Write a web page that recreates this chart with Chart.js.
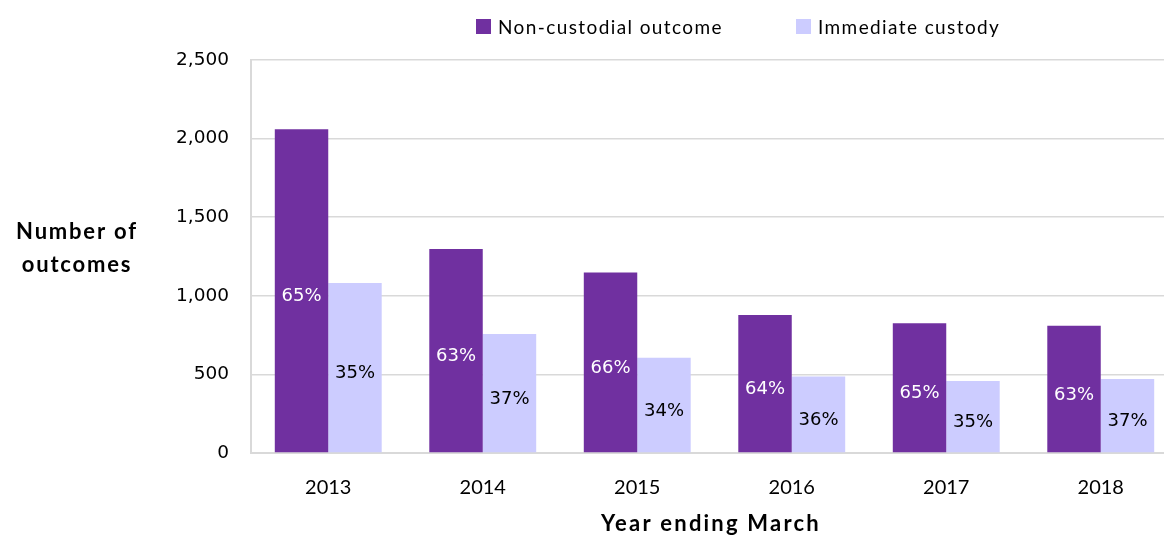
<!DOCTYPE html>
<html>
<head>
<meta charset="utf-8">
<script src="https://cdn.jsdelivr.net/npm/chart.js@4"></script>
<style>
  html, body { margin: 0; padding: 0; overflow: hidden; background: #fff; }
  #wrap { position: relative; width: 1178px; height: 536px; }
</style>
</head>
<body>
<div id="wrap"><canvas id="chart"></canvas></div>
<script>
const years = ["2013", "2014", "2015", "2016", "2017", "2018"];
const nonCustodial = [2060, 1298, 1149, 878, 825, 810];
const immediateCustody = [1081, 757, 606, 486, 458, 471];
const nonCustodialPct = ["65%", "63%", "66%", "64%", "65%", "63%"];
const immediateCustodyPct = ["35%", "37%", "34%", "36%", "35%", "37%"];
const yTicks = [0, 500, 1000, 1500, 2000, 2500];

const purple = "#7030A0";
const lavender = "#CCCCFF";

// percentage labels in the middle of each bar
const barLabels = {
  id: "barLabels",
  afterDatasetsDraw(chart) {
    const ctx = chart.ctx;
    ctx.save();
    ctx.font = "18px 'DejaVu Sans'";
    ctx.textAlign = "center";
    ctx.textBaseline = "middle";
    chart.data.datasets.forEach((ds, i) => {
      chart.getDatasetMeta(i).data.forEach((bar, j) => {
        ctx.fillStyle = i === 0 ? "#ffffff" : "#000000";
        ctx.fillText(ds.pctLabels[j], bar.x, (bar.y + bar.base) / 2 + 6);
      });
    });
    ctx.restore();
  }
};

// legend, horizontal y title and x title
const extras = {
  id: "extras",
  afterDraw(chart) {
    const ctx = chart.ctx;
    ctx.save();
    ctx.font = "19px Lato";
    ctx.letterSpacing = "1.4px";
    ctx.textBaseline = "alphabetic";
    ctx.textAlign = "left";
    const starts = [476, 796];
    chart.data.datasets.forEach((ds, i) => {
      const x = starts[i];
      ctx.fillStyle = ds.backgroundColor;
      ctx.fillRect(x, 19, 15, 15);
      ctx.fillStyle = "#000";
      ctx.fillText(ds.label, x + 22, 34);
    });

    ctx.font = "bold 22px Lato";
    ctx.letterSpacing = "1.8px";
    ctx.textAlign = "center";
    ctx.fillText("Number of", 77, 239);
    ctx.fillText("outcomes", 77, 272);

    ctx.letterSpacing = "2.2px";
    ctx.fillText("Year ending March", 711, 531);
    ctx.letterSpacing = "0px";
    ctx.restore();
  }
};

new Chart(document.getElementById("chart"), {
  type: "bar",
  data: {
    labels: years,
    datasets: [
      {
        label: "Non-custodial outcome",
        data: nonCustodial,
        pctLabels: nonCustodialPct,
        backgroundColor: purple,
        categoryPercentage: 0.692,
        barPercentage: 1.0,
      },
      {
        label: "Immediate custody",
        data: immediateCustody,
        pctLabels: immediateCustodyPct,
        backgroundColor: lavender,
        categoryPercentage: 0.692,
        barPercentage: 1.0,
      },
    ],
  },
  options: {
    responsive: true,
    maintainAspectRatio: false,
    animation: false,
    layout: { padding: { top: 60, left: 0, right: 0, bottom: 0 } },
    plugins: {
      legend: { display: false },
      tooltip: { enabled: false },
    },
    scales: {
      x: {
        grid: { display: false, drawTicks: false },
        border: { display: true, color: "#d9d9d9", width: 2 },
        ticks: { color: "#000", font: { family: "Lato", size: 20 }, padding: 23 },
        afterFit: (s) => { s.height = 83; },
      },
      y: {
        min: 0,
        max: 2500,
        afterBuildTicks: (s) => { s.ticks = yTicks.map((v) => ({ value: v })); },
        grid: { color: "#d9d9d9", lineWidth: 1.5, drawTicks: false },
        border: { display: true, color: "#d9d9d9", width: 2 },
        ticks: {
          color: "#000",
          font: { family: "DejaVu Sans", size: 18.5 },
          padding: 22,
          callback: (v) => v.toLocaleString("en-GB"),
        },
        afterFit: (s) => { s.width = 251; },
      },
    },
  },
  plugins: [barLabels, extras],
});
</script>
</body>
</html>
